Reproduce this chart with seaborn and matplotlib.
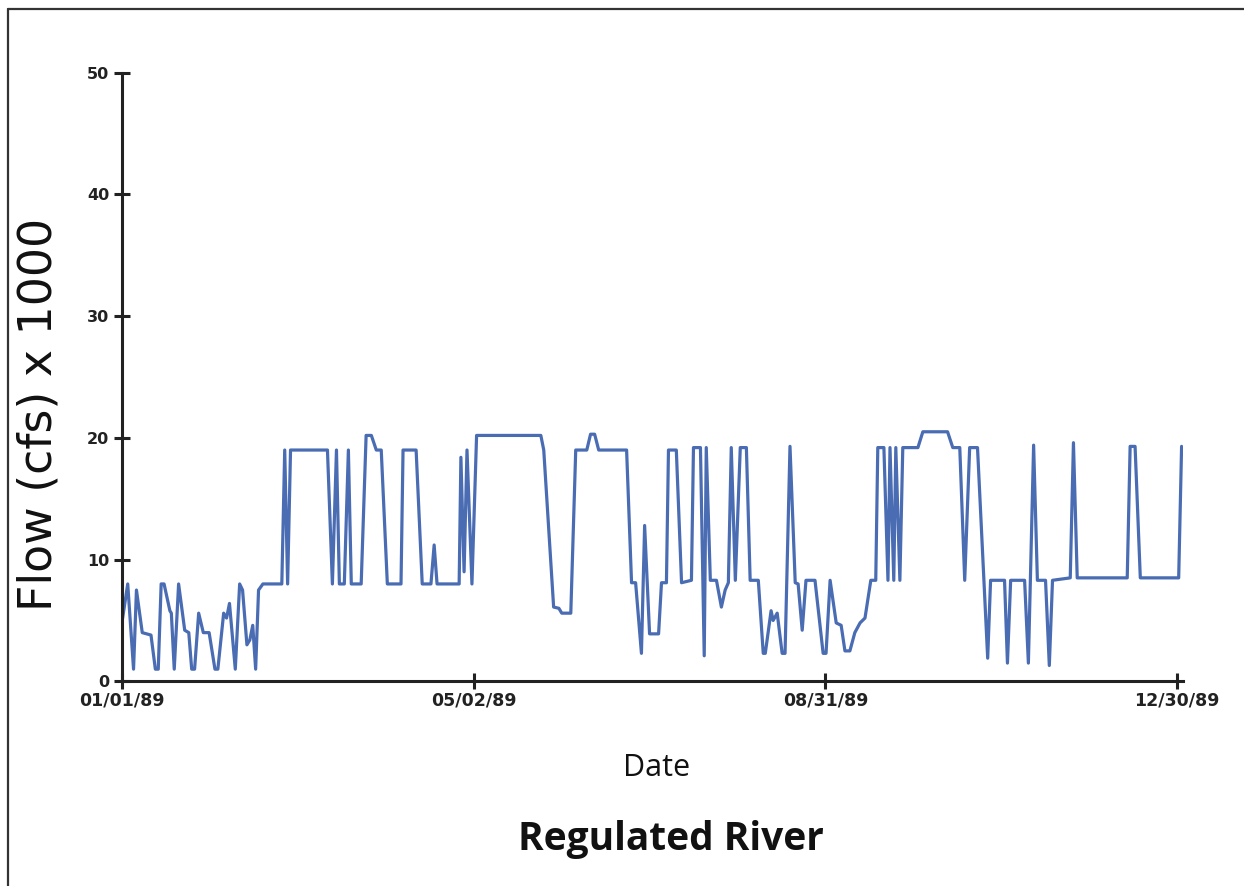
import pandas as pd
import matplotlib.pyplot as plt
import matplotlib.dates as mdates
from matplotlib.lines import Line2D
import seaborn as sns

# dias desde el 01/01/89 y caudal (cfs x 1000)
dias = [0, 2, 4, 5, 7, 10, 11.5, 12.5, 13.5, 14.5, 16.5, 17, 18, 19.5, 21.6, 23, 24, 25, 26.4, 28,
        30, 32, 33, 35, 36, 37, 39, 40.5, 41.5, 43, 44, 45, 46, 47, 48.5, 55, 56, 57, 58, 70.7,
        72.4, 73.8, 74.8, 76.5, 77.9, 78.9, 82.3, 84, 85.8, 87.5, 89.2, 91.3, 96, 96.7, 101.2, 103.3,
        106.3, 107.4, 108.4, 116, 116.6, 117.7, 118.7, 120.4, 122, 144.1, 145.1, 148.5, 150.3, 151.3,
        154.4, 156.1, 159.9, 161.2, 162.6, 164, 173.6, 175.3, 176.7, 178.7, 179.8, 181.5, 184.6, 185.6,
        187.3, 188, 190.7, 192.5, 195.9, 196.6, 199, 200.3, 201, 202.4, 204.5, 206.2, 207.5, 208.6,
        209.6, 211, 212.7, 214.8, 216.1, 218.9, 220.6, 221.3, 223.3, 224, 225.4, 227.1, 228.1, 229.8,
        231.6, 232.6, 234, 235.3, 238.4, 241.2, 242.2, 243.6, 245.7, 247.4, 248.7, 250.4, 252.1, 253.9,
        255.6, 257.6, 259.3, 260, 262.1, 263.5, 264.2, 265.5, 266.2, 267.6, 268.6, 273.8, 275.5, 284,
        285.8, 288.2, 289.9, 291.6, 294.3, 297.8, 298.8, 303.6, 304.6, 305.7, 310.5, 311.8, 313.6, 314.9,
        317.7, 319, 320.1, 326.2, 327.3, 328.6, 345.8, 346.8, 348.5, 350.3, 363.5, 364.5]
caudal = [4.8, 8.0, 1.0, 7.5, 4.0, 3.8, 1.0, 1.0, 8.0, 8.0, 5.8, 5.6, 1.0, 8.0, 4.2, 4.0, 1.0, 1.0, 5.6, 4.0,
          4.0, 1.0, 1.0, 5.6, 5.2, 6.4, 1.0, 8.0, 7.5, 3.0, 3.4, 4.6, 1.0, 7.5, 8.0, 8.0, 19.0, 8.0, 19.0, 19.0,
          8.0, 19.0, 8.0, 8.0, 19.0, 8.0, 8.0, 20.2, 20.2, 19.0, 19.0, 8.0, 8.0, 19.0, 19.0, 8.0,
          8.0, 11.2, 8.0, 8.0, 18.4, 9.0, 19.0, 8.0, 20.2, 20.2, 19.0, 6.1, 6.0, 5.6,
          5.6, 19.0, 19.0, 20.3, 20.3, 19.0, 19.0, 8.1, 8.1, 2.3, 12.8, 3.9, 3.9, 8.1,
          8.1, 19.0, 19.0, 8.1, 8.3, 19.2, 19.2, 2.1, 19.2, 8.3, 8.3, 6.1, 7.5, 8.1,
          19.2, 8.3, 19.2, 19.2, 8.3, 8.3, 2.3, 2.3, 5.8, 5.0, 5.6, 2.3, 2.3, 19.3,
          8.1, 8.0, 4.2, 8.3, 8.3, 2.3, 2.3, 8.3, 4.8, 4.6, 2.5, 2.5, 4.0, 4.8,
          5.2, 8.3, 8.3, 19.2, 19.2, 8.3, 19.2, 8.3, 19.2, 8.3, 19.2, 19.2, 20.5, 20.5,
          19.2, 19.2, 8.3, 19.2, 19.2, 1.9, 8.3, 8.3, 1.5, 8.3, 8.3, 1.5, 19.4, 8.3,
          8.3, 1.3, 8.3, 8.5, 19.6, 8.5, 8.5, 19.3, 19.3, 8.5, 8.5, 19.3]
fechas_ticks = ['1989-01-01', '1989-05-02', '1989-08-31', '1989-12-30']
yticks = [0, 10, 20, 30, 40, 50]

inicio = pd.Timestamp('1989-01-01')
df = pd.DataFrame({'fecha': inicio + pd.to_timedelta(dias, unit='D'), 'flow': caudal})

sns.set_style('ticks')
plt.rcParams['font.family'] = ['DejaVu Sans']

fig = plt.figure(figsize=(12.44, 8.86), dpi=100)
ax = fig.add_axes([0.098, 0.231, 0.853, 0.687])
sns.lineplot(data=df, x='fecha', y='flow', ax=ax, color='#4a6cb3', linewidth=2.3,
             estimator=None, sort=False)

ax.set_xlim(inicio, inicio + pd.Timedelta(days=365))
ax.set_ylim(0, 50)
ax.set_yticks(yticks)
ax.set_xticks(pd.to_datetime(fechas_ticks))
ax.xaxis.set_major_formatter(mdates.DateFormatter('%m/%d/%y'))
ax.set_xlabel('')
ax.set_ylabel('')

for s in ['top', 'right']:
    ax.spines[s].set_visible(False)
for s in ['left', 'bottom']:
    ax.spines[s].set_color('#222222')
    ax.spines[s].set_linewidth(2.2)
ax.tick_params(axis='both', direction='inout', length=12, width=2.2, color='#222222')
ax.tick_params(axis='y', pad=3, labelsize=11.5)
ax.tick_params(axis='x', pad=1, labelsize=12.5)
for t in ax.get_xticklabels() + ax.get_yticklabels():
    t.set_fontweight('bold')
    t.set_color('#222222')

fig.text(0.031, 0.532, 'Flow (cfs) x 1000', rotation=90, ha='center', va='center',
         fontsize=33, family='DejaVu Sans', color='#111111')
fig.text(0.528, 0.133, 'Date', ha='center', va='center', fontsize=22,
         family='Open Sans', color='#111111')
fig.text(0.539, 0.052, 'Regulated River', ha='center', va='center', fontsize=28,
         family='Open Sans', fontweight='bold', color='#111111')

# marco del documento original (solo arriba e izquierda)
fig.add_artist(Line2D([0.0064, 0.0064], [0, 0.9898], transform=fig.transFigure, color='#333333', lw=1.6))
fig.add_artist(Line2D([0.0064, 1], [0.9898, 0.9898], transform=fig.transFigure, color='#333333', lw=1.6))

plt.savefig('out.png', dpi=100)
